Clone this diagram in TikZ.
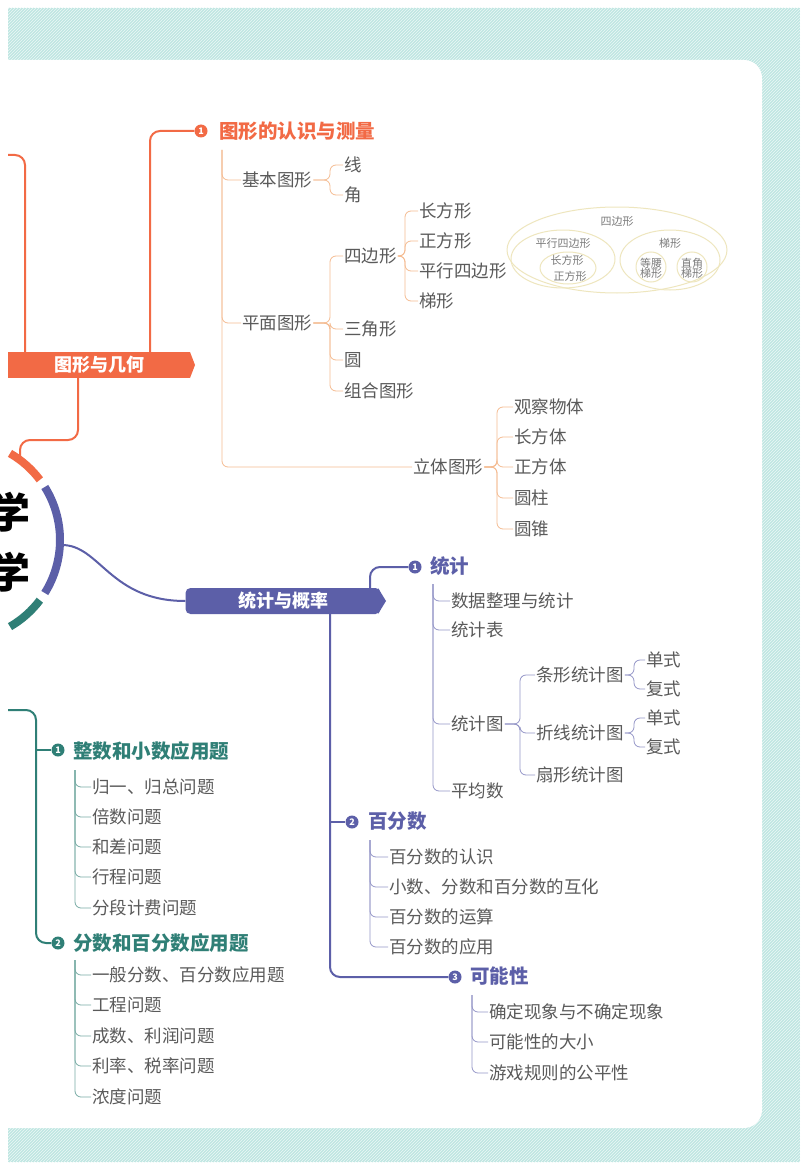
\documentclass[tikz,border=0pt]{standalone}
\usepackage{fontspec}
\setmainfont{Noto Sans CJK SC}
\newfontfamily\cjk{Noto Sans CJK SC}
\usetikzlibrary{patterns}
\definecolor{org}{HTML}{F26A45}
\definecolor{orgl}{HTML}{F5BC92}
\definecolor{pur}{HTML}{5C5FA8}
\definecolor{purl}{HTML}{9597C8}
\definecolor{grn}{HTML}{2F7F76}
\definecolor{grnl}{HTML}{78ACA5}
\definecolor{tealbg}{HTML}{BFE6E2}
\definecolor{txt}{HTML}{5A5A5A}
\definecolor{ell}{HTML}{EEE6BE}
\tikzset{
 item/.style={anchor=west,inner sep=1pt,text=txt,font=\fontsize{17.5}{18}\selectfont},
 head/.style={anchor=west,inner sep=1pt,font=\fontsize{19.5}{20}\selectfont\bfseries},
 num/.style={circle,inner sep=0pt,minimum size=13pt,text=white,font=\fontsize{9}{9}\selectfont\bfseries},
 ln/.style={line width=0.8pt,rounded corners=6pt},
 thick ln/.style={line width=2pt,rounded corners=10pt},
 small/.style={text=txt!80,font=\fontsize{11}{11}\selectfont,inner sep=0pt,align=center},
}
\begin{document}
\begin{tikzpicture}[x=1pt,y=-1pt]
\useasboundingbox (0,0) rectangle (800,1169);
\fill[tealbg] (8,8) rectangle (800,1162);
\fill[pattern=north east lines,pattern color=white!70!tealbg] (8,8) rectangle (800,1162);
\fill[white,rounded corners=18pt] (-30,60) rectangle (762,1128);
\fill[white] (0,60) rectangle (8,1128);
% central circle
\draw[org,line width=8pt] (-40,540) ++(-60:100) arc (-60:-37:100);
\draw[pur,line width=8pt] (-40,540) ++(-32:100) arc (-32:32:100);
\draw[grn,line width=8pt] (-40,540) ++(37:100) arc (37:60:100);
\node[font=\fontsize{42}{42}\selectfont\bfseries] (xue1) at (10,512) {学};
\node[font=\fontsize{42}{42}\selectfont\bfseries] (xue2) at (10,572) {学};
\coordinate (co) at (20,462);
\coordinate (cp) at (62,545);
% ===== orange =====
\node[fill=org,text=white,font=\fontsize{18}{18}\selectfont\bfseries,minimum height=26pt,minimum width=182pt,inner sep=0pt] (tx) at (99,365) {图形与几何};
\fill[org] (190,352) -- (195,365) -- (190,378) -- cycle;
\draw[org,thick ln] (8,155) -- (25,155) -- (25,352);
\draw[org,thick ln] (78,378) -- (78,440) -- (20,440) -- (co);
\node[num,fill=org] (o1) at (201,131) {1};
\draw[org,thick ln] (150,352) |- (o1);
\node[head,text=org] (oh) at (218,131) {图形的认识与测量};
\node[item] (jb) at (241,180) {基本图形};
\node[item] (pm) at (241,323) {平面图形};
\node[item] (lt) at (412,467) {立体图形};
\draw[orgl,ln] (222,150) |- (jb.west);
\draw[orgl,ln] (222,150) |- (pm.west);
\draw[orgl,ln] (222,150) |- (lt.west);
\foreach \t/\y/\n in {线/165/a1,角/195/a2}{\node[item] (\n) at (343,\y) {\t}; \draw[orgl,ln] (jb.east) -- (330,180) |- (\n.west);}
\foreach \t/\y/\n in {四边形/256/b1,三角形/329/b2,圆/360/b3,组合图形/391/b4}{\node[item] (\n) at (343,\y) {\t}; \draw[orgl,ln] (pm.east) -- (330,323) |- (\n.west);}
\foreach \t/\y/\n in {长方形/211/c1,正方形/241/c2,平行四边形/271/c3,梯形/301/c4}{\node[item] (\n) at (418,\y) {\t}; \draw[orgl,ln] (b1.east) -- (405,256) |- (\n.west);}
\foreach \t/\y/\n in {观察物体/407/d1,长方体/437/d2,正方体/467/d3,圆柱/498/d4,圆锥/529/d5}{\node[item] (\n) at (513,\y) {\t}; \draw[orgl,ln] (lt.east) -- (497,467) |- (\n.west);}
% ellipses
\draw[ell,line width=1pt] (617,250) ellipse (110pt and 43pt);
\draw[ell,line width=1pt] (563,259) ellipse (52pt and 29pt);
\draw[ell,line width=1pt] (568,268) ellipse (28pt and 16pt);
\draw[ell,line width=1pt] (670,260) ellipse (50pt and 30pt);
\draw[ell,line width=1pt] (651,267) circle (15pt);
\draw[ell,line width=1pt] (692,267) circle (15pt);
\node[small] (e1) at (617,221) {四边形};
\node[small] (e2) at (563,243) {平行四边形};
\node[small] (e3) at (567,260) {长方形};
\node[small] (e4) at (570,276) {正方形};
\node[small] (e5) at (670,243) {梯形};
\node[small] (e6) at (651,268) {等腰\\[-1pt]梯形};
\node[small] (e7) at (692,268) {直角\\[-1pt]梯形};
% ===== purple =====
\node[fill=pur,text=white,font=\fontsize{18}{18}\selectfont\bfseries,minimum height=26pt,minimum width=195pt,inner sep=0pt,rounded corners=5pt] (tp) at (283,601) {统计与概率};
\fill[pur] (378,588) -- (386,601) -- (378,614) -- cycle;
\draw[pur,line width=2pt] (cp) .. controls (100,545) and (110,601) .. (tp.west);
\node[num,fill=pur] (p1) at (415,567) {1};
\draw[pur,thick ln] (370,588) |- (p1);
\node[head,text=pur] (ph1) at (429,566) {统计};
\node[num,fill=pur] (p2) at (352,822) {2};
\node[head,text=pur] (ph2) at (367,821) {百分数};
\node[num,fill=pur] (p3) at (455,977) {3};
\node[head,text=pur] (ph3) at (469,976) {可能性};
\draw[pur,thick ln] (330,614) |- (p3);
\draw[pur,line width=2pt] (330,822) -- (p2);
\foreach \t/\y/\n in {数据整理与统计/601/f1,统计表/630/f2,统计图/724/f3,平均数/791/f4}{\node[item] (\n) at (450,\y) {\t}; \draw[purl,ln] (433,584) |- (\n.west);}
\foreach \t/\y/\n in {条形统计图/675/g1,折线统计图/733/g2,扇形统计图/775/g3}{\node[item] (\n) at (535,\y) {\t}; \draw[purl,ln] (f3.east) -- (520,724) |- (\n.west);}
\foreach \t/\y/\n in {单式/660/h1,复式/689/h2}{\node[item] (\n) at (645,\y) {\t}; \draw[purl,ln] (g1.east) -- (634,675) |- (\n.west);}
\foreach \t/\y/\n in {单式/718/k1,复式/747/k2}{\node[item] (\n) at (645,\y) {\t}; \draw[purl,ln] (g2.east) -- (634,733) |- (\n.west);}
\foreach \t/\y/\n in {百分数的认识/857/m1,小数、分数和百分数的互化/887/m2,百分数的运算/917/m3,百分数的应用/947/m4}{\node[item] (\n) at (388,\y) {\t}; \draw[purl,ln] (370,840) |- (\n.west);}
\foreach \t/\y/\n in {确定现象与不确定现象/1012/q1,可能性的大小/1042/q2,游戏规则的公平性/1073/q3}{\node[item] (\n) at (488,\y) {\t}; \draw[purl,ln] (472,995) |- (\n.west);}
% ===== green =====
\node[num,fill=grn] (g1n) at (58,750) {1};
\node[num,fill=grn] (g2n) at (58,943) {2};
\node[head,text=grn] (gh1) at (72,751) {整数和小数应用题};
\node[head,text=grn] (gh2) at (72,943) {分数和百分数应用题};
\draw[grn,thick ln] (8,710) -- (36,710) |- (g2n);
\draw[grn,line width=2pt] (36,750) -- (g1n);
\foreach \t/\y/\n in {归一、归总问题/787/r1,倍数问题/817/r2,和差问题/847/r3,行程问题/877/r4,分段计费问题/908/r5}{\node[item] (\n) at (91,\y) {\t}; \draw[grnl,ln] (75,770) |- (\n.west);}
\foreach \t/\y/\n in {一般分数、百分数应用题/975/s1,工程问题/1005/s2,成数、利润问题/1036/s3,利率、税率问题/1066/s4,浓度问题/1097/s5}{\node[item] (\n) at (91,\y) {\t}; \draw[grnl,ln] (75,960) |- (\n.west);}
\end{tikzpicture}
\end{document}
